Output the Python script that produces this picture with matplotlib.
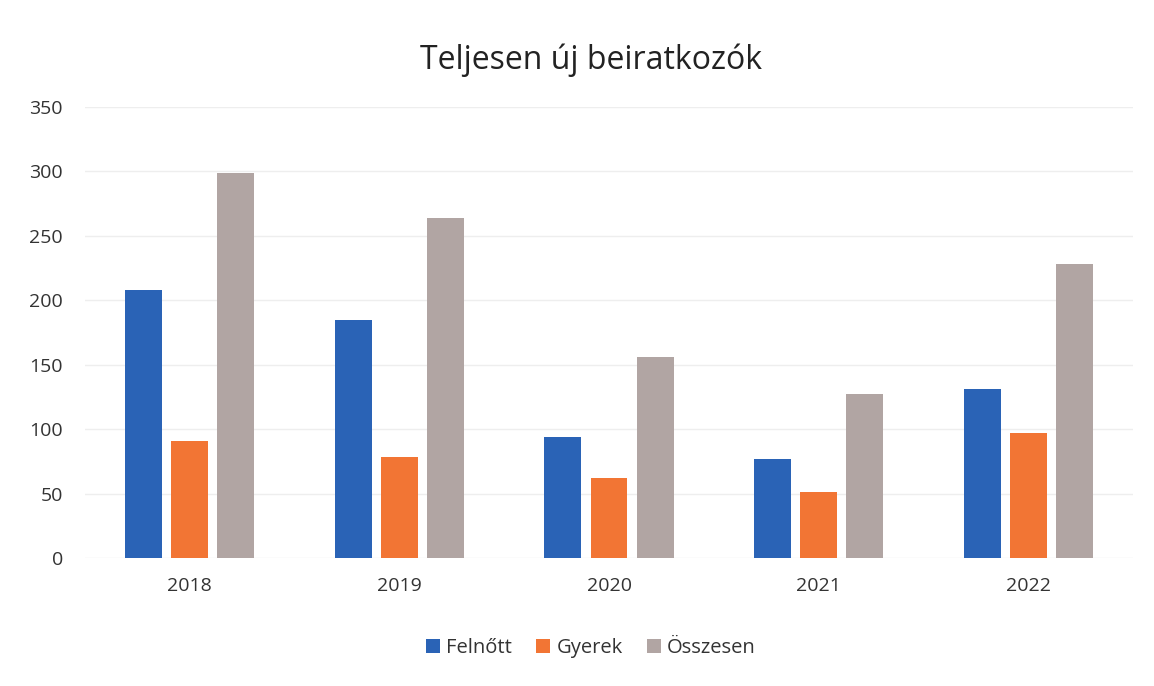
import matplotlib
matplotlib.use("Agg")
import matplotlib.pyplot as plt
import numpy as np

years = ["2018", "2019", "2020", "2021", "2022"]
series_names = ["Felnőtt", "Gyerek", "Összesen"]
felnott = [208, 185, 94, 77, 131]
gyerek = [91, 78, 62, 51, 97]
osszesen = [299, 264, 156, 127, 228]
colors = ["#2A63B6", "#F27534", "#B1A5A3"]

plt.rcParams["font.family"] = ["Open Sans", "DejaVu Sans"]

fig = plt.figure(figsize=(11.54, 6.86), dpi=100)
ax = fig.add_axes([85 / 1154, 1 - 558 / 686, 1048 / 1154, 451 / 686])

x = np.arange(len(years))
width, step = 0.176, 0.22
for i, (vals, name, c) in enumerate(zip([felnott, gyerek, osszesen], series_names, colors)):
    ax.bar(x + (i - 1) * step, vals, width, color=c, label=name, zorder=3)

ax.set_xlim(-0.5, len(years) - 0.5)
ax.set_ylim(0, 350)
ax.set_yticks(range(0, 351, 50))
ax.set_xticks(x, years)
ax.grid(axis="y", color="#EEEEEE", lw=1, zorder=0)
ax.tick_params(length=0, labelsize=14, colors="#333333")
ax.tick_params(axis="y", pad=16)
ax.tick_params(axis="x", pad=14)
for spine in ax.spines.values():
    spine.set_visible(False)

fig.text(0.512, 1 - 60 / 686, "Teljesen új beiratkozók", ha="center", va="center",
         fontsize=23, color="#222222")
fig.legend(loc="center", bbox_to_anchor=(0.512, 1 - 648 / 686), ncol=3, frameon=False,
           fontsize=14.5, handlelength=0.7, handleheight=0.7, handletextpad=0.3,
           columnspacing=1.2, labelcolor="#333333")

fig.savefig("out.png", dpi=100)
